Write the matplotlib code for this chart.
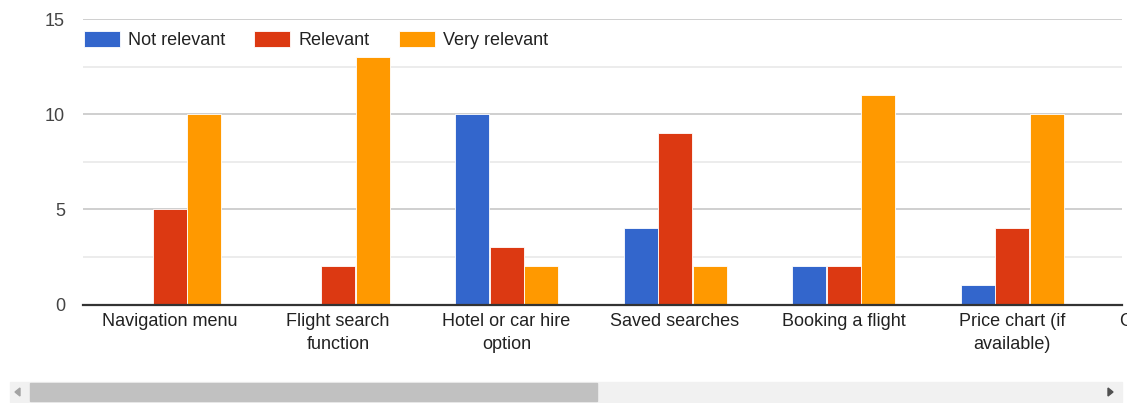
import matplotlib

matplotlib.use("Agg")
import matplotlib.pyplot as plt
from matplotlib.patches import Rectangle, Polygon
import numpy as np

plt.rcParams["font.family"] = ["Liberation Sans", "DejaVu Sans"]

# survey results per feature
categories = [
    "Navigation menu",
    "Flight search\nfunction",
    "Hotel or car hire\noption",
    "Saved searches",
    "Booking a flight",
    "Price chart (if\navailable)",
]
not_relevant = [0, 0, 10, 4, 2, 1]
relevant = [5, 2, 3, 9, 2, 4]
very_relevant = [10, 13, 2, 2, 11, 10]

series = [
    ("Not relevant", not_relevant, "#3366cc"),
    ("Relevant", relevant, "#dc3912"),
    ("Very relevant", very_relevant, "#ff9900"),
]

W, H = 1127, 403
fig = plt.figure(figsize=(W / 100, H / 100), dpi=100)
ax = fig.add_axes([83 / W, 1 - 304.5 / H, (1122 - 83) / W, 285.2 / H])

x = np.arange(len(categories))
step = 34.5 / 168.5
width = 34 / 168.5
for i, (name, vals, color) in enumerate(series):
    ax.bar(x + (i - 1) * step, vals, width=width, color=color,
           edgecolor="white", linewidth=0.6, label=name, zorder=3)

ax.set_xlim((83 - 169.5) / 168.5, (1122 - 169.5) / 168.5)
ax.set_ylim(0, 15)
ax.set_yticks([0, 5, 10, 15])
ax.set_yticks([2.5, 7.5, 12.5], minor=True)
ax.grid(axis="y", which="major", color="#cccccc", linewidth=1.3, zorder=0)
ax.grid(axis="y", which="minor", color="#ebebeb", linewidth=1.3, zorder=0)

ax.set_xticks(x)
ax.set_xticklabels(categories, fontsize=13, color="#222222", linespacing=1.5)
ax.tick_params(axis="x", length=0, pad=6)
ax.tick_params(axis="y", which="both", length=0, pad=13, labelsize=13,
               labelcolor="#444444")

for side in ["top", "right", "left"]:
    ax.spines[side].set_visible(False)
ax.spines["bottom"].set_color("#333333")
ax.spines["bottom"].set_linewidth(1.6)
ax.spines["bottom"].set_zorder(4)

ax.legend(loc="center left", bbox_to_anchor=(84 / W, 1 - 40 / H),
          bbox_transform=fig.transFigure, ncol=3, frameon=False,
          fontsize=13, handlelength=2.0, handleheight=0.95,
          handletextpad=0.45, columnspacing=1.6, borderpad=0,
          borderaxespad=0, labelcolor="#222222")

# next category label, cut off at the right edge
fig.text(1119 / W, 1 - 321 / H, "C", fontsize=13, color="#222222",
         ha="left", va="center")

# horizontal scrollbar
fig.patches.append(Rectangle((10 / W, 1 - 402 / H), (1122 - 10) / W, 20 / H,
                             transform=fig.transFigure, color="#f1f1f1"))
fig.patches.append(Rectangle((30 / W, 1 - 401 / H), (597 - 30) / W, 18 / H,
                             transform=fig.transFigure, color="#c1c1c1"))
fig.patches.append(Polygon([(15 / W, 1 - 392 / H), (20 / W, 1 - 388 / H),
                            (20 / W, 1 - 396 / H)], closed=True,
                           transform=fig.transFigure, color="#a3a3a3"))
fig.patches.append(Polygon([(1113 / W, 1 - 392 / H), (1108 / W, 1 - 388 / H),
                            (1108 / W, 1 - 396 / H)], closed=True,
                           transform=fig.transFigure, color="#505050"))

fig.savefig("out.png", dpi=100)
